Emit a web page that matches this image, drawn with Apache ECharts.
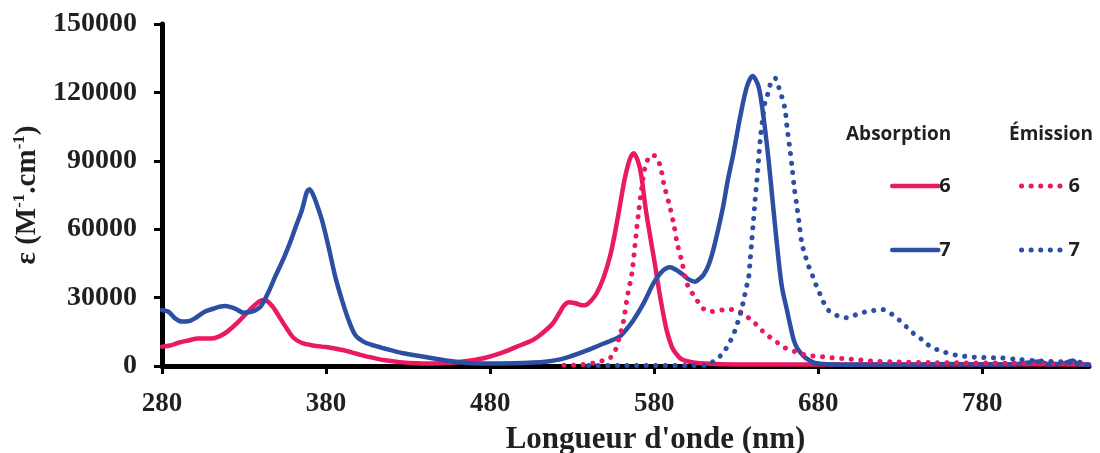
<!DOCTYPE html>
<html>
<head>
<meta charset="utf-8">
<script src="https://cdn.jsdelivr.net/npm/echarts@6/dist/echarts.min.js"></script>
<style>
html,body{margin:0;padding:0;background:#fff;}
#c{width:1100px;height:453px;}
</style>
</head>
<body>
<div id="c"></div>
<script>
// ---- data (wavelength nm, epsilon) ----
var xTicks = [280, 380, 480, 580, 680, 780];
var yTicks = [0, 30000, 60000, 90000, 120000, 150000];

var abs6_nm  = [280,285,290,296,302,310,315,320,326,332,337,341,344,348,352,356,360,365,372,380,390,398,406,415,425,435,445,456,466,476,486,496,506,512,518,522,525,528,532,536,539,542,545,549,553,556,559,562,565,567.5,570,572,575,577.5,580,583,586,588,591,594,597,602,608,620,650,700,750,800,845];
var abs6_eps = [8500,9000,10200,11200,12100,12100,13000,15200,19000,23500,27000,28800,28500,25500,21000,16500,12500,10200,9000,8300,7000,5500,4000,2600,1700,1200,1100,1400,2200,3400,5500,8400,11400,14500,18500,23000,26500,28000,27500,26600,27000,29000,32000,38500,47900,58000,69900,82000,90500,93300,90000,84000,68000,57000,46500,33000,21000,14500,8000,4800,2800,1800,1200,800,700,700,700,800,700];

var abs7_nm  = [280,284,288,292,296,300,306,312,315,318.6,322,325,329.7,334.8,340,344,349,354,358,362,365.3,368.3,369.8,371.5,373.4,377.5,381.5,385.6,389.7,393.7,397.8,402.8,409,415,427,436,445,455.7,468,486,506,515,522.7,530,537,547,555,559,563,567.4,573.5,579.6,584.7,589.7,593,597.8,601,605,608,610,613,616,619,622,625,628.3,632.4,636.5,640,643.6,646.6,649.7,652.7,655.8,658,660.9,663,665,667,669,672,675,678,685,700,720,740,760,780,800,815,820,830,835,838,845];
var abs7_eps = [24600,23800,20900,19500,19600,20900,23800,25300,26000,26300,25800,25000,23400,23800,26000,31100,39200,47000,54000,62000,68400,76400,77500,76000,72800,64000,52300,39200,28900,20200,13600,10700,9000,7800,5600,4500,3400,2200,1200,1100,1500,2000,2900,4500,6300,9200,11500,12900,16000,20200,27500,36300,41400,43300,42300,39900,38000,37000,38500,39900,44000,50900,60000,69900,82000,93300,109300,122500,127200,122500,109300,90350,68400,46500,34000,24560,17500,11500,8000,6000,3700,2300,1300,800,600,700,600,900,700,800,2000,800,1200,2400,900,600];

var em6_nm  = [525,535,545,549,553,556,558.5,561,564,566.4,568.4,570.4,572.5,574.5,577,579,581,583.7,586,589,591.8,594,596.9,599.5,602,605.6,609,614,619,625,631,636.5,640.5,644.6,649.5,654.3,659,664.5,670,676,682,688,700,712,725,750,800,845];
var em6_eps = [300,500,1500,2500,3500,6300,12000,18700,31900,40600,53800,67000,78600,87400,91800,92500,91800,87700,79400,71400,62600,53800,45700,37000,33300,29400,25700,23800,24260,24850,24260,21600,19400,16300,13200,10700,8200,6700,5200,4400,4100,3650,3000,2200,1800,1500,1200,1000];

var em7_nm  = [540,560,580,600,612,617,622,625,628,630,632,633.4,634.8,636,637.5,638.5,639.5,640.5,641.5,642.6,643.6,644.6,646,647.6,649.7,651.2,653.7,655.8,657.8,659.8,660.9,662.5,664,665.3,667,668.6,670,672,674,676,678,680.4,682.8,685.6,689,694,699,703.5,708.6,713.6,718,721.4,726,730,734,738,742.5,746.5,751,756,761.8,767.5,773,778,784,790,800,815,830,845];
var em7_eps = [200,200,200,200,400,2600,5570,9200,13200,17200,21600,25300,29700,34100,38500,46500,55300,64000,72800,81600,90350,99100,107900,115900,120300,124500,126200,122500,118100,112300,105000,96200,87400,78600,69900,61100,53800,48500,44000,40600,36700,32600,28600,24850,23100,21400,21200,22700,23700,24300,24850,24300,22100,19700,17000,14300,12000,9500,7600,6300,5100,4400,3950,3800,3650,3600,3000,2200,1800,1500];

function pairs(xs, ys){ return xs.map(function(x,i){ return [x, ys[i]]; }); }

var PINK = '#E91A63';
var BLUE = '#2D4FA3';
var serif = 'Liberation Serif';
var sans = 'Open Sans';
var DOTS = [0.1, 9.5];

var chart = echarts.init(document.getElementById('c'), null, {renderer:'canvas'});
chart.setOption({
  animation: false,
  backgroundColor: '#fff',
  grid: {left:162, right:11, top:24, bottom:87, containLabel:false, outerBoundsMode:'none'},
  title: [
    {text:'Absorption', left:841, top:120, textStyle:{fontFamily:sans, fontWeight:'bold', fontSize:19, color:'#231F20'}},
    {text:'Émission', left:1004, top:120, textStyle:{fontFamily:sans, fontWeight:'bold', fontSize:19, color:'#231F20'}}
  ],
  legend: [
    {data:['A 6','A 7'], orient:'vertical', left:885, top:171, itemWidth:46, itemHeight:14, itemGap:44,
     itemStyle:{opacity:0},
     lineStyle:{width:4.5, type:'solid', cap:'round'},
     formatter:function(n){return n.split(' ')[1];},
     textStyle:{fontFamily:sans, fontWeight:'bold', fontSize:20, color:'#231F20', padding:[0,0,0,-4]}},
    {data:['E 6','E 7'], orient:'vertical', left:1014, top:171, itemWidth:46, itemHeight:14, itemGap:44,
     itemStyle:{opacity:0},
     lineStyle:{width:5, type:DOTS, cap:'round'},
     formatter:function(n){return n.split(' ')[1];},
     textStyle:{fontFamily:sans, fontWeight:'bold', fontSize:20, color:'#231F20', padding:[0,0,0,-4]}}
  ],
  xAxis: {
    type:'value', min:280, max:845, interval:100,
    name:"Longueur d'onde (nm)", nameLocation:'middle', nameGap:58,
    nameTextStyle:{fontFamily:serif, fontWeight:'bold', fontSize:31, color:'#231F20', padding:[0,0,0,60]},
    axisLine:{show:true, lineStyle:{color:'#000', width:5}},
    axisTick:{show:true, inside:false, length:8, lineStyle:{color:'#000', width:3}, customValues:xTicks},
    axisLabel:{margin:25, fontFamily:serif, fontWeight:'bold', fontSize:27, color:'#231F20', customValues:xTicks},
    splitLine:{show:false}
  },
  yAxis: {
    type:'value', min:0, max:150000, interval:30000,
    name:'{a|ε (M}{s|-1}{a|.cm}{s|-1}{a|)}', nameLocation:'middle', nameGap:108, nameRotate:90,
    nameTextStyle:{rich:{
      a:{fontFamily:serif, fontWeight:'bold', fontSize:29, color:'#231F20', lineHeight:32},
      s:{fontFamily:serif, fontWeight:'bold', fontSize:17, color:'#231F20', verticalAlign:'top', lineHeight:32, padding:[0,0,14,0]}
    }},
    axisLine:{show:true, lineStyle:{color:'#000', width:5}},
    axisTick:{show:true, inside:false, length:8, lineStyle:{color:'#000', width:3}, customValues:yTicks},
    axisLabel:{margin:25, fontFamily:serif, fontWeight:'bold', fontSize:28, color:'#231F20', customValues:yTicks,
      formatter:function(v){return String(v);}},
    splitLine:{show:false}
  },
  series: [
    {name:'A 6', type:'line', data:pairs(abs6_nm, abs6_eps), symbol:'none', smooth:0.3, color:PINK,
     lineStyle:{color:PINK, width:4.5, cap:'round', join:'round'}},
    {name:'A 7', type:'line', data:pairs(abs7_nm, abs7_eps), symbol:'none', smooth:0.3, color:BLUE,
     lineStyle:{color:BLUE, width:4.5, cap:'round', join:'round'}},
    {name:'E 6', type:'line', data:pairs(em6_nm, em6_eps), symbol:'none', smooth:0.3, color:PINK,
     lineStyle:{color:PINK, width:5, type:DOTS, cap:'round', join:'round'}},
    {name:'E 7', type:'line', data:pairs(em7_nm, em7_eps), symbol:'none', smooth:0.3, color:BLUE,
     lineStyle:{color:BLUE, width:5, type:DOTS, cap:'round', join:'round'}}
  ]
});
</script>
</body>
</html>
